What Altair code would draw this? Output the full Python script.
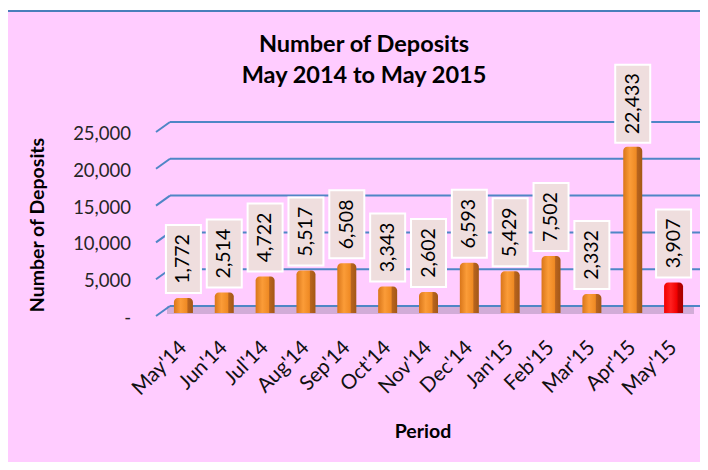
import altair as alt
import pandas as pd

months = ["May'14", "Jun'14", "Jul'14", "Aug'14", "Sep'14", "Oct'14", "Nov'14",
          "Dec'14", "Jan'15", "Feb'15", "Mar'15", "Apr'15", "May'15"]
deposits = [1772, 2514, 4722, 5517, 6508, 3343, 2602, 6593, 5429, 7502, 2332, 22433, 3907]
highlight = [False] * 12 + [True]

grid_values = [0, 5000, 10000, 15000, 20000, 25000]
grid_labels = ["-\u00a0\u00a0\u00a0", "5,000", "10,000", "15,000", "20,000", "25,000"]

title_lines = ["Number of Deposits", "May 2014 to May 2015"]
y_title = "Number of Deposits"
x_title = "Period"

FONT = "Lato"
df = pd.DataFrame({"month": months, "deposits": deposits, "current": highlight})
gdf = pd.DataFrame({"value": grid_values, "label": grid_labels})

bar_scale = alt.Scale(domain=[0, 25000])
grid_scale = alt.Scale(domain=[0, 25000], range=[178, -6])
xaxis = alt.X("month:N", sort=months, scale=alt.Scale(paddingInner=0, paddingOuter=0),
              axis=alt.Axis(labelAngle=-45, labelAlign="right", labelBaseline="middle",
                            labelPadding=33, domain=False, ticks=False, title=None,
                            labelFont=FONT, labelFontSize=20.5, labelColor="#111"))
xenc = xaxis

base = alt.Chart(df)
gbase = alt.Chart(gdf)
one = pd.DataFrame({"k": [0]})

# top white strip + blue line
top_white = alt.Chart(one).mark_rect(color="white").encode(
    x=alt.value(-160), x2=alt.value(540), y=alt.value(-125), y2=alt.value(-118))
top_line = alt.Chart(one).mark_rule(color="#4a7ebb", strokeWidth=2).encode(
    x=alt.value(-160), x2=alt.value(540), y=alt.value(-117))

# floor
floor = alt.Chart(one).mark_rect(color="#d2acd8").encode(
    x=alt.value(4), x2=alt.value(531), y=alt.value(178), y2=alt.value(186))

grid_h = gbase.mark_rule(color="#4f86c6", strokeWidth=2).encode(
    x=alt.value(7), x2=alt.value(537),
    y=alt.Y("value:Q", scale=grid_scale, axis=None), y2="value:Q")
grid_d = gbase.mark_rule(color="#4f86c6", strokeWidth=2, yOffset=10).encode(
    x=alt.value(-7), x2=alt.value(7),
    y=alt.Y("value:Q", scale=grid_scale, axis=None), y2="value:Q")
ylabels = gbase.mark_text(align="right", baseline="middle", yOffset=12, font=FONT,
                          fontSize=18.5, color="#262626").encode(
    x=alt.value(-32), y=alt.Y("value:Q", scale=grid_scale, axis=None), text="label:N")

orange = alt.Gradient(gradient="linear", x1=0, x2=1, y1=0, y2=0, stops=[
    alt.GradientStop(color="#d9761a", offset=0),
    alt.GradientStop(color="#fb9c38", offset=0.35),
    alt.GradientStop(color="#ef8a24", offset=0.68),
    alt.GradientStop(color="#b8641e", offset=0.74),
    alt.GradientStop(color="#a35716", offset=1)])
red = alt.Gradient(gradient="linear", x1=0, x2=1, y1=0, y2=0, stops=[
    alt.GradientStop(color="#f20000", offset=0),
    alt.GradientStop(color="#ff2020", offset=0.35),
    alt.GradientStop(color="#f00000", offset=0.68),
    alt.GradientStop(color="#c00000", offset=0.74),
    alt.GradientStop(color="#a80000", offset=1)])

bars = base.transform_filter("!datum.current").mark_bar(
    width=19, color=orange, cornerRadiusTopLeft=4, cornerRadiusTopRight=4, y2Offset=2).encode(
    x=xaxis, y=alt.Y("deposits:Q", scale=bar_scale, axis=None), y2=alt.datum(0))
bar_red = base.transform_filter("datum.current").mark_bar(
    width=19, color=red, cornerRadiusTopLeft=4, cornerRadiusTopRight=4, y2Offset=2).encode(
    x=xenc, y=alt.Y("deposits:Q", scale=bar_scale, axis=None), y2=alt.datum(0))

box_small = base.transform_filter("datum.deposits < 10000").mark_bar(
    width=35, fill="#efdede", stroke="white", strokeWidth=2, yOffset=-73, y2Offset=-5).encode(
    x=xenc, y=alt.Y("deposits:Q", scale=bar_scale, axis=None), y2="deposits:Q")
box_big = base.transform_filter("datum.deposits >= 10000").mark_bar(
    width=35, fill="#efdede", stroke="white", strokeWidth=2, yOffset=-82, y2Offset=-4).encode(
    x=xenc, y=alt.Y("deposits:Q", scale=bar_scale, axis=None), y2="deposits:Q")

txt_small = base.transform_filter("datum.deposits < 10000").mark_text(
    angle=270, align="center", baseline="middle", yOffset=-39, font=FONT, fontSize=19.5,
    color="black").encode(
    x=xenc, y=alt.Y("deposits:Q", scale=bar_scale, axis=None),
    text=alt.Text("deposits:Q", format=","))
txt_big = base.transform_filter("datum.deposits >= 10000").mark_text(
    angle=270, align="center", baseline="middle", yOffset=-43, font=FONT, fontSize=19.5,
    color="black").encode(
    x=xenc, y=alt.Y("deposits:Q", scale=bar_scale, axis=None),
    text=alt.Text("deposits:Q", format=","))

title1 = alt.Chart(pd.DataFrame({"t": [title_lines[0]]})).mark_text(
    font=FONT, fontSize=23.5, fontWeight="bold", color="black",
    baseline="middle", align="center").encode(
    x=alt.value(201), y=alt.value(-83), text="t:N")
title2 = alt.Chart(pd.DataFrame({"t": [title_lines[1]]})).mark_text(
    font=FONT, fontSize=23.5, fontWeight="bold", color="black",
    baseline="middle", align="center").encode(
    x=alt.value(201), y=alt.value(-52), text="t:N")

ytitle = alt.Chart(pd.DataFrame({"t": [y_title]})).mark_text(
    font=FONT, fontSize=19.5, fontWeight="bold", angle=270, color="black",
    align="center", baseline="middle").encode(
    x=alt.value(-125), y=alt.value(97), text="t:N")
xtitle = alt.Chart(pd.DataFrame({"t": [x_title]})).mark_text(
    font=FONT, fontSize=19.5, fontWeight="bold", color="black",
    align="center", baseline="middle").encode(
    x=alt.value(260), y=alt.value(304), text="t:N")

chart = alt.layer(
    top_white, top_line, floor, grid_h, grid_d, ylabels,
    bars, bar_red, box_small, box_big, txt_small, txt_big,
    title1, title2, ytitle, xtitle
).resolve_scale(y="independent").properties(
    width=531, height=183,
    background="#ffccff",
    autosize=alt.AutoSizeParams(type="none"),
    padding={"left": 155, "top": 120, "right": 6, "bottom": 151},
).configure_view(stroke=None)

chart.save("out.html", embed_options={"renderer": "svg", "actions": False})
